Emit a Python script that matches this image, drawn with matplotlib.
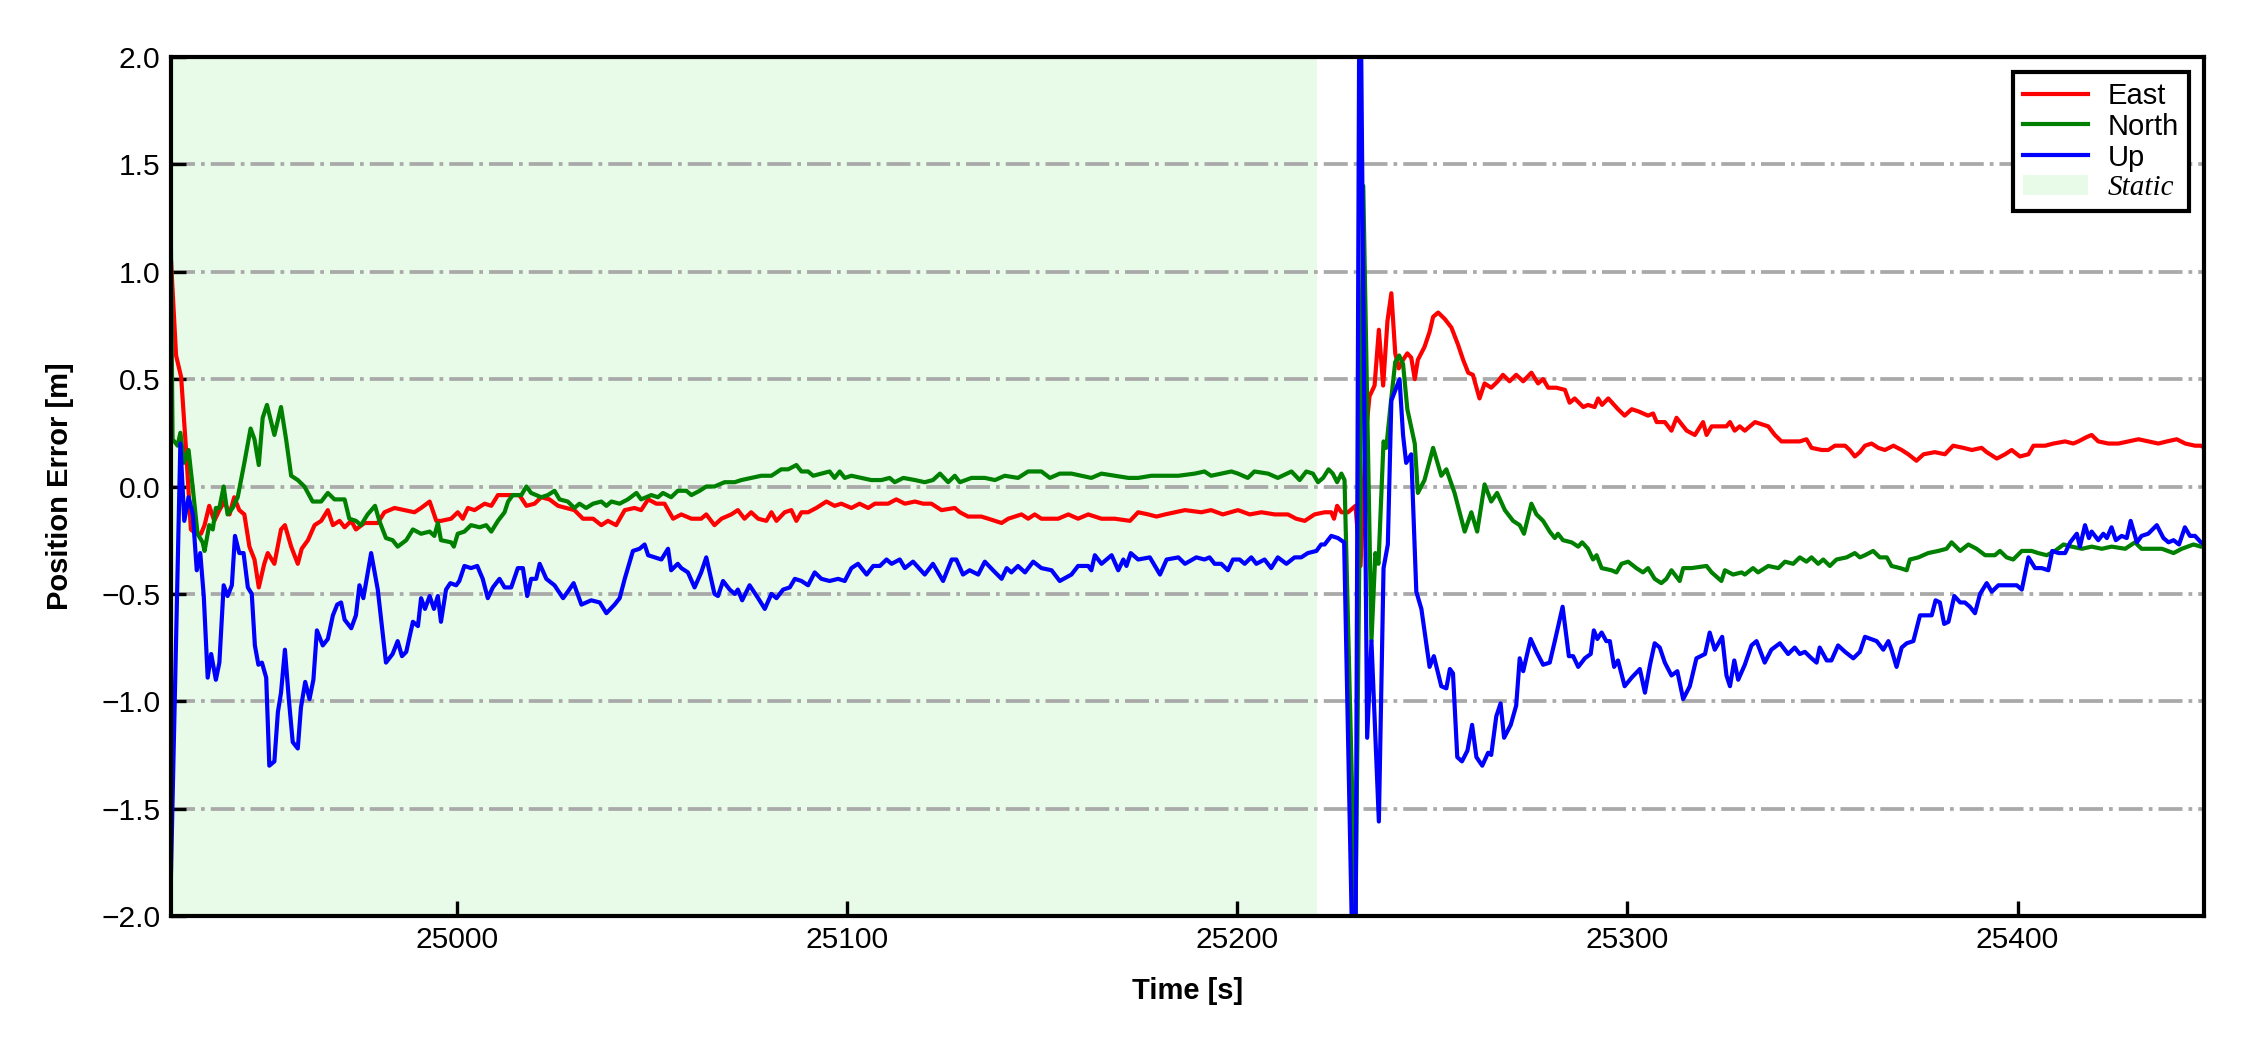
import matplotlib
matplotlib.use("Agg")
import matplotlib.pyplot as plt
from matplotlib.lines import Line2D
from matplotlib.patches import Patch

# ---------------- data ----------------
t_east = [
    24926.5, 24928.0, 24929.3, 24930.6, 24931.8, 24933.1, 24934.4, 24935.3, 24936.5, 24937.8,
    24939.1, 24940.4, 24941.7, 24942.9, 24944.2, 24945.5, 24946.8, 24948.1, 24949.2, 24950.6,
    24951.5, 24953.2, 24954.9, 24955.9, 24957.5, 24959.2, 24960.2, 24961.8, 24963.5, 24965.2,
    24966.9, 24968.2, 24969.9, 24971.2, 24972.9, 24974.1, 24976.3, 24979.7, 24981.4, 24984.0,
    24986.5, 24989.1, 24990.8, 24993.0, 24994.7, 24995.9, 24998.5, 25000.2, 25001.5, 25002.8,
    25004.5, 25007.1, 25008.8, 25010.5, 25013.0, 25016.0, 25017.8, 25019.9, 25021.6, 25023.7,
    25025.9, 25028.0, 25030.1, 25032.3, 25034.9, 25037.0, 25038.7, 25040.8, 25043.0, 25045.5,
    25047.2, 25049.0, 25051.1, 25053.2, 25055.4, 25057.5, 25060.1, 25062.6, 25063.9, 25066.0,
    25067.8, 25070.3, 25072.0, 25073.7, 25075.4, 25077.2, 25079.3, 25080.6, 25081.9, 25084.0,
    25085.7, 25087.0, 25088.3, 25090.0, 25092.1, 25094.7, 25096.8, 25098.5, 25101.1, 25103.2,
    25105.4, 25107.1, 25110.5, 25112.6, 25114.8, 25117.4, 25119.5, 25121.6, 25124.2, 25127.6,
    25128.9, 25131.0, 25134.4, 25136.2, 25139.6, 25141.3, 25144.7, 25146.4, 25148.1, 25149.8,
    25154.1, 25156.7, 25159.2, 25161.8, 25165.2, 25168.6, 25172.5, 25174.6, 25177.2, 25179.3,
    25181.5, 25184.0, 25186.6, 25190.8, 25193.3, 25196.3, 25200.2, 25203.2, 25206.2, 25209.6,
    25213.0, 25215.1, 25217.3, 25219.8, 25222.4, 25224.1, 25224.8, 25225.6, 25226.7, 25228.4,
    25230.3, 25231.6, 25233.0, 25233.9, 25235.2, 25236.3, 25237.4, 25238.5, 25239.5, 25240.5,
    25241.4, 25242.5, 25243.6, 25244.6, 25245.5, 25246.3, 25248.0, 25249.3, 25250.2, 25251.5,
    25253.2, 25254.9, 25256.6, 25257.9, 25259.2, 25260.4, 25262.1, 25263.4, 25265.1, 25266.8,
    25268.1, 25269.8, 25271.5, 25273.3, 25275.4, 25277.1, 25278.4, 25279.7, 25281.8, 25284.0,
    25285.2, 25286.5, 25288.7, 25289.9, 25291.6, 25292.5, 25293.5, 25295.1, 25297.6, 25299.3,
    25301.1, 25302.8, 25305.3, 25306.6, 25307.5, 25309.6, 25311.3, 25312.6, 25313.9, 25315.2,
    25317.3, 25319.4, 25320.3, 25321.6, 25323.7, 25325.4, 25326.3, 25327.5, 25328.8, 25330.1,
    25332.7, 25334.4, 25336.1, 25337.8, 25339.5, 25342.1, 25344.2, 25345.9, 25347.2, 25349.8,
    25351.5, 25353.2, 25355.8, 25357.0, 25358.3, 25359.6, 25360.9, 25362.6, 25364.3, 25366.0,
    25368.2, 25370.3, 25372.0, 25374.1, 25375.9, 25378.8, 25381.4, 25383.5, 25386.1, 25388.3,
    25390.8, 25392.1, 25394.7, 25396.8, 25398.5, 25400.6, 25402.8, 25404.1, 25407.1, 25409.2,
    25412.2, 25414.3, 25415.6, 25417.7, 25419.0, 25420.7, 25423.3, 25425.9, 25428.4, 25431.0,
    25433.6, 25436.1, 25438.3, 25440.8, 25443.0, 25445.5, 25447.0, 25448.0,
]
east = [
    1.12, 0.61, 0.51, 0.16, -0.20, -0.22, -0.22, -0.18, -0.09, -0.16,
    -0.11, -0.07, -0.13, -0.05, -0.11, -0.13, -0.28, -0.34, -0.47, -0.36,
    -0.31, -0.36, -0.20, -0.18, -0.28, -0.36, -0.29, -0.25, -0.18, -0.16,
    -0.11, -0.18, -0.16, -0.19, -0.16, -0.20, -0.17, -0.17, -0.12, -0.10,
    -0.11, -0.12, -0.10, -0.07, -0.16, -0.16, -0.15, -0.12, -0.15, -0.10,
    -0.11, -0.08, -0.09, -0.04, -0.04, -0.04, -0.09, -0.08, -0.05, -0.06,
    -0.09, -0.10, -0.11, -0.15, -0.15, -0.18, -0.16, -0.18, -0.11, -0.10,
    -0.11, -0.06, -0.08, -0.08, -0.15, -0.13, -0.15, -0.15, -0.13, -0.18,
    -0.15, -0.13, -0.11, -0.15, -0.12, -0.15, -0.16, -0.12, -0.16, -0.12,
    -0.11, -0.16, -0.12, -0.12, -0.10, -0.07, -0.09, -0.08, -0.10, -0.08,
    -0.10, -0.08, -0.08, -0.06, -0.08, -0.07, -0.08, -0.08, -0.11, -0.10,
    -0.12, -0.14, -0.14, -0.15, -0.17, -0.15, -0.13, -0.15, -0.13, -0.15,
    -0.15, -0.13, -0.15, -0.13, -0.15, -0.15, -0.16, -0.12, -0.13, -0.14,
    -0.13, -0.12, -0.11, -0.12, -0.11, -0.13, -0.11, -0.13, -0.12, -0.13,
    -0.13, -0.15, -0.16, -0.13, -0.12, -0.12, -0.15, -0.09, -0.12, -0.12,
    -0.09, -0.37, 0.25, 0.42, 0.47, 0.73, 0.47, 0.77, 0.90, 0.62,
    0.55, 0.59, 0.62, 0.60, 0.50, 0.59, 0.65, 0.72, 0.79, 0.81,
    0.78, 0.74, 0.66, 0.59, 0.53, 0.52, 0.41, 0.48, 0.46, 0.49,
    0.52, 0.49, 0.52, 0.49, 0.53, 0.48, 0.50, 0.46, 0.46, 0.45,
    0.39, 0.41, 0.37, 0.38, 0.37, 0.41, 0.38, 0.41, 0.36, 0.33,
    0.36, 0.35, 0.33, 0.34, 0.30, 0.30, 0.26, 0.32, 0.29, 0.26,
    0.24, 0.30, 0.24, 0.28, 0.28, 0.28, 0.30, 0.26, 0.28, 0.26,
    0.30, 0.29, 0.28, 0.24, 0.21, 0.21, 0.21, 0.22, 0.18, 0.17,
    0.17, 0.19, 0.19, 0.17, 0.14, 0.16, 0.19, 0.20, 0.18, 0.17,
    0.19, 0.17, 0.15, 0.12, 0.15, 0.16, 0.15, 0.19, 0.18, 0.17,
    0.18, 0.16, 0.13, 0.15, 0.17, 0.14, 0.15, 0.19, 0.19, 0.20,
    0.21, 0.20, 0.21, 0.23, 0.24, 0.21, 0.20, 0.20, 0.21, 0.22,
    0.21, 0.20, 0.21, 0.22, 0.20, 0.19, 0.19, 0.18,
]

t_north = [
    24926.5, 24927.1, 24928.4, 24929.1, 24930.0, 24931.2, 24932.3, 24933.5, 24934.8, 24935.3,
    24936.5, 24937.4, 24938.2, 24939.1, 24940.2, 24941.2, 24942.5, 24943.8, 24945.5, 24947.1,
    24948.1, 24949.2, 24950.2, 24951.3, 24953.2, 24954.9, 24956.2, 24957.5, 24959.2, 24960.9,
    24963.0, 24965.2, 24966.9, 24968.6, 24971.2, 24972.4, 24974.1, 24975.4, 24977.1, 24979.0,
    24980.1, 24981.8, 24983.5, 24984.8, 24987.0, 24988.7, 24990.8, 24993.0, 24994.2, 24995.1,
    24995.9, 24998.5, 24999.2, 25000.2, 25001.9, 25003.6, 25005.8, 25007.5, 25008.8, 25010.5,
    25012.2, 25013.1, 25014.3, 25016.5, 25017.8, 25019.0, 25021.6, 25023.3, 25025.0, 25026.3,
    25028.4, 25030.1, 25031.4, 25033.1, 25034.9, 25037.0, 25038.3, 25039.6, 25041.7, 25043.8,
    25046.0, 25047.2, 25049.8, 25051.5, 25052.8, 25054.9, 25056.6, 25058.8, 25060.1, 25062.2,
    25063.9, 25066.0, 25068.6, 25071.2, 25072.9, 25075.4, 25078.0, 25080.6, 25083.1, 25084.9,
    25087.0, 25088.3, 25090.0, 25091.3, 25093.4, 25095.5, 25096.8, 25098.1, 25099.4, 25101.1,
    25103.7, 25106.2, 25108.8, 25110.9, 25112.2, 25114.4, 25117.4, 25119.9, 25122.0, 25123.8,
    25125.9, 25127.6, 25128.9, 25131.9, 25135.3, 25137.9, 25140.4, 25143.8, 25146.4, 25149.8,
    25152.0, 25154.5, 25157.5, 25160.1, 25162.6, 25165.2, 25168.6, 25172.1, 25174.6, 25178.0,
    25181.5, 25184.9, 25189.1, 25191.6, 25193.3, 25195.9, 25198.5, 25200.2, 25202.7, 25204.4,
    25207.9, 25210.4, 25213.9, 25216.0, 25217.7, 25219.4, 25220.7, 25222.0, 25223.4, 25224.5,
    25225.6, 25226.7, 25227.5, 25230.3, 25232.3, 25234.4, 25235.4, 25236.2, 25237.5, 25238.2,
    25239.3, 25240.5, 25241.5, 25242.5, 25243.6, 25245.5, 25246.3, 25248.0, 25250.2, 25252.3,
    25253.6, 25255.7, 25258.3, 25260.0, 25261.5, 25263.4, 25265.1, 25266.6, 25268.6, 25270.7,
    25272.4, 25273.5, 25275.4, 25276.7, 25278.4, 25280.1, 25281.4, 25282.2, 25283.5, 25285.7,
    25287.4, 25288.4, 25289.9, 25291.2, 25292.1, 25293.4, 25295.9, 25297.2, 25298.5, 25300.2,
    25302.3, 25304.0, 25305.3, 25307.0, 25308.7, 25310.0, 25311.3, 25313.4, 25314.3, 25316.4,
    25320.3, 25321.6, 25324.1, 25325.0, 25327.1, 25329.3, 25330.1, 25332.2, 25333.5, 25336.1,
    25338.7, 25340.4, 25342.5, 25344.2, 25345.9, 25347.2, 25348.9, 25350.2, 25351.9, 25353.6,
    25356.2, 25358.3, 25359.6, 25360.9, 25363.0, 25364.7, 25366.5, 25367.7, 25369.9, 25371.6,
    25372.4, 25374.6, 25377.1, 25379.7, 25381.8, 25383.1, 25385.3, 25387.4, 25389.5, 25391.7,
    25394.2, 25395.5, 25397.2, 25398.9, 25401.1, 25403.6, 25405.3, 25407.5, 25409.6, 25411.8,
    25413.9, 25416.5, 25419.0, 25421.6, 25424.1, 25427.6, 25430.1, 25431.8, 25434.4, 25437.0,
    25440.0, 25442.1, 25445.1, 25447.0, 25448.0,
]
north = [
    1.50, 0.22, 0.19, 0.25, 0.11, 0.17, -0.01, -0.22, -0.26, -0.30,
    -0.18, -0.20, -0.10, -0.10, 0.00, -0.13, -0.10, -0.05, 0.11, 0.27,
    0.22, 0.10, 0.32, 0.38, 0.24, 0.37, 0.22, 0.05, 0.03, 0.00,
    -0.07, -0.07, -0.03, -0.06, -0.06, -0.15, -0.16, -0.18, -0.13, -0.09,
    -0.16, -0.24, -0.25, -0.28, -0.25, -0.20, -0.22, -0.21, -0.23, -0.17,
    -0.25, -0.26, -0.28, -0.22, -0.21, -0.18, -0.19, -0.18, -0.21, -0.16,
    -0.12, -0.07, -0.04, -0.04, 0.00, -0.03, -0.05, -0.04, -0.02, -0.06,
    -0.07, -0.10, -0.08, -0.10, -0.08, -0.07, -0.09, -0.07, -0.08, -0.06,
    -0.03, -0.06, -0.04, -0.05, -0.03, -0.05, -0.02, -0.02, -0.04, -0.02,
    0.00, 0.00, 0.02, 0.02, 0.03, 0.04, 0.05, 0.05, 0.08, 0.08,
    0.10, 0.07, 0.07, 0.05, 0.06, 0.07, 0.04, 0.07, 0.04, 0.05,
    0.04, 0.03, 0.03, 0.04, 0.02, 0.04, 0.03, 0.02, 0.03, 0.06,
    0.02, 0.05, 0.02, 0.04, 0.04, 0.03, 0.05, 0.04, 0.07, 0.07,
    0.04, 0.06, 0.06, 0.05, 0.04, 0.06, 0.05, 0.04, 0.04, 0.05,
    0.05, 0.05, 0.06, 0.07, 0.05, 0.06, 0.07, 0.06, 0.04, 0.07,
    0.06, 0.04, 0.07, 0.03, 0.07, 0.06, 0.02, 0.04, 0.08, 0.06,
    0.02, 0.06, 0.03, -2.05, 1.40, -0.72, -0.31, -0.36, 0.21, 0.18,
    0.38, 0.58, 0.61, 0.57, 0.36, 0.20, -0.03, 0.03, 0.18, 0.05,
    0.08, -0.03, -0.21, -0.12, -0.21, 0.01, -0.07, -0.03, -0.11, -0.16,
    -0.18, -0.22, -0.08, -0.13, -0.16, -0.21, -0.24, -0.22, -0.25, -0.26,
    -0.28, -0.26, -0.29, -0.34, -0.32, -0.38, -0.39, -0.40, -0.36, -0.35,
    -0.38, -0.40, -0.38, -0.43, -0.45, -0.43, -0.39, -0.44, -0.38, -0.38,
    -0.37, -0.40, -0.44, -0.39, -0.41, -0.40, -0.41, -0.38, -0.40, -0.37,
    -0.38, -0.35, -0.36, -0.33, -0.35, -0.33, -0.36, -0.34, -0.37, -0.34,
    -0.33, -0.31, -0.33, -0.32, -0.30, -0.33, -0.33, -0.37, -0.38, -0.39,
    -0.34, -0.33, -0.31, -0.30, -0.29, -0.26, -0.30, -0.27, -0.29, -0.32,
    -0.32, -0.30, -0.33, -0.34, -0.30, -0.30, -0.31, -0.32, -0.30, -0.27,
    -0.28, -0.29, -0.28, -0.29, -0.28, -0.29, -0.26, -0.29, -0.29, -0.29,
    -0.31, -0.29, -0.27, -0.28, -0.28,
]

t_up = [
    24926.6, 24929.1, 24930.1, 24931.2, 24932.3, 24933.3, 24934.2, 24935.1, 24936.1, 24937.0,
    24938.2, 24939.1, 24940.2, 24941.2, 24942.3, 24943.1, 24944.2, 24945.3, 24946.4, 24947.4,
    24948.2, 24949.1, 24950.0, 24951.1, 24951.9, 24953.2, 24954.1, 24954.9, 24955.9, 24956.9,
    24957.9, 24959.2, 24960.0, 24961.1, 24962.2, 24963.2, 24964.1, 24965.6, 24966.9, 24968.2,
    24969.3, 24970.3, 24971.2, 24972.9, 24974.1, 24975.0, 24976.0, 24978.0, 24979.7, 24981.8,
    24983.5, 24984.8, 24985.9, 24987.0, 24988.7, 24990.0, 24990.8, 24991.8, 24993.0, 24994.1,
    24995.1, 24995.9, 24997.2, 24998.3, 24999.8, 25000.6, 25001.9, 25003.6, 25005.2, 25006.6,
    25007.9, 25009.2, 25010.9, 25012.2, 25013.9, 25015.6, 25016.9, 25018.0, 25019.0, 25020.3,
    25021.2, 25022.9, 25025.0, 25027.2, 25028.4, 25029.9, 25031.9, 25034.4, 25036.6, 25038.3,
    25040.4, 25041.7, 25043.0, 25045.1, 25046.8, 25048.1, 25049.0, 25050.7, 25052.4, 25054.1,
    25054.9, 25056.6, 25057.5, 25059.2, 25060.9, 25062.6, 25063.9, 25066.0, 25066.9, 25068.2,
    25069.9, 25071.2, 25072.0, 25073.1, 25075.0, 25077.2, 25078.9, 25080.6, 25081.9, 25083.6,
    25085.3, 25086.6, 25088.3, 25090.0, 25091.7, 25093.4, 25095.5, 25097.7, 25099.4, 25101.1,
    25102.8, 25105.0, 25106.7, 25108.4, 25110.1, 25111.4, 25113.5, 25114.8, 25116.9, 25119.9,
    25122.0, 25124.6, 25126.8, 25128.0, 25129.7, 25131.4, 25133.6, 25135.3, 25137.4, 25139.6,
    25140.9, 25142.1, 25143.8, 25145.6, 25147.7, 25149.8, 25152.4, 25154.5, 25157.5, 25159.2,
    25161.8, 25162.6, 25163.5, 25165.2, 25167.8, 25169.5, 25170.8, 25171.6, 25172.7, 25174.6,
    25177.6, 25180.2, 25181.9, 25184.9, 25186.6, 25189.5, 25191.6, 25192.9, 25194.2, 25195.9,
    25197.6, 25198.9, 25200.6, 25201.9, 25203.6, 25204.9, 25207.0, 25208.7, 25210.4, 25212.6,
    25214.7, 25216.4, 25218.1, 25220.3, 25221.5, 25222.4, 25224.1, 25225.8, 25227.4, 25230.2,
    25231.4, 25233.3, 25234.4, 25236.3, 25237.5, 25238.6, 25239.5, 25241.6, 25242.5, 25243.3,
    25244.6, 25245.9, 25247.2, 25249.3, 25250.4, 25252.3, 25253.6, 25254.5, 25255.3, 25256.4,
    25257.6, 25259.0, 25260.2, 25261.3, 25262.8, 25264.3, 25265.1, 25266.4, 25267.5, 25268.4,
    25270.1, 25271.5, 25272.4, 25273.3, 25275.2, 25276.7, 25278.4, 25280.1, 25281.4, 25283.4,
    25285.0, 25286.1, 25287.4, 25289.1, 25290.6, 25291.4, 25292.3, 25293.4, 25294.6, 25295.5,
    25296.6, 25297.6, 25299.3, 25301.1, 25303.2, 25304.5, 25305.8, 25307.0, 25308.3, 25309.6,
    25311.3, 25312.8, 25314.3, 25316.0, 25317.7, 25319.9, 25321.1, 25322.4, 25324.3, 25325.4,
    25326.3, 25327.4, 25328.4, 25330.1, 25331.8, 25333.1, 25335.2, 25336.9, 25339.1, 25341.2,
    25342.9, 25344.2, 25345.5, 25347.2, 25348.5, 25349.3, 25351.1, 25352.3, 25354.0, 25355.8,
    25357.9, 25359.6, 25360.9, 25363.9, 25365.6, 25366.9, 25367.7, 25369.0, 25370.3, 25371.6,
    25373.3, 25375.0, 25376.3, 25378.0, 25379.0, 25380.1, 25381.2, 25382.3, 25383.8, 25385.3,
    25386.5, 25387.8, 25389.1, 25390.4, 25392.1, 25393.4, 25395.1, 25397.7, 25399.8, 25401.1,
    25402.8, 25404.5, 25406.2, 25407.9, 25408.9, 25410.5, 25412.2, 25413.5, 25415.2, 25416.0,
    25417.3, 25418.3, 25419.0, 25420.7, 25422.0, 25422.9, 25424.1, 25425.2, 25426.7, 25428.0,
    25429.0, 25430.6, 25431.8, 25433.5, 25435.7, 25437.4, 25438.7, 25440.0, 25441.4, 25442.9,
    25444.2, 25445.5, 25447.0, 25448.0,
]
up = [
    -1.88, 0.20, -0.16, -0.05, -0.13, -0.39, -0.31, -0.51, -0.89, -0.78,
    -0.90, -0.82, -0.46, -0.51, -0.46, -0.23, -0.31, -0.31, -0.47, -0.50,
    -0.74, -0.83, -0.82, -0.89, -1.30, -1.28, -1.05, -0.96, -0.76, -0.99,
    -1.19, -1.22, -1.03, -0.91, -0.99, -0.90, -0.67, -0.74, -0.71, -0.60,
    -0.55, -0.54, -0.62, -0.66, -0.60, -0.46, -0.52, -0.31, -0.48, -0.82,
    -0.78, -0.72, -0.79, -0.77, -0.63, -0.65, -0.52, -0.57, -0.51, -0.57,
    -0.51, -0.63, -0.48, -0.45, -0.46, -0.44, -0.37, -0.38, -0.37, -0.43,
    -0.52, -0.47, -0.43, -0.47, -0.47, -0.38, -0.38, -0.51, -0.43, -0.43,
    -0.36, -0.43, -0.46, -0.52, -0.49, -0.45, -0.55, -0.53, -0.54, -0.59,
    -0.55, -0.52, -0.43, -0.30, -0.29, -0.27, -0.32, -0.33, -0.34, -0.29,
    -0.39, -0.36, -0.38, -0.40, -0.47, -0.40, -0.33, -0.50, -0.51, -0.44,
    -0.48, -0.50, -0.48, -0.53, -0.46, -0.52, -0.57, -0.50, -0.52, -0.48,
    -0.47, -0.43, -0.44, -0.46, -0.40, -0.43, -0.44, -0.43, -0.44, -0.38,
    -0.36, -0.41, -0.37, -0.37, -0.34, -0.36, -0.34, -0.38, -0.35, -0.41,
    -0.36, -0.44, -0.34, -0.34, -0.41, -0.39, -0.41, -0.35, -0.39, -0.43,
    -0.38, -0.40, -0.37, -0.40, -0.35, -0.38, -0.39, -0.44, -0.41, -0.37,
    -0.37, -0.39, -0.32, -0.36, -0.32, -0.39, -0.34, -0.37, -0.31, -0.34,
    -0.33, -0.41, -0.34, -0.33, -0.36, -0.33, -0.34, -0.33, -0.36, -0.36,
    -0.39, -0.34, -0.34, -0.36, -0.33, -0.36, -0.34, -0.38, -0.33, -0.36,
    -0.33, -0.33, -0.31, -0.30, -0.27, -0.27, -0.23, -0.24, -0.26, -2.80,
    2.80, -1.17, -0.72, -1.56, -0.38, -0.27, 0.40, 0.50, 0.24, 0.11,
    0.15, -0.49, -0.57, -0.84, -0.79, -0.93, -0.94, -0.85, -0.87, -1.26,
    -1.28, -1.23, -1.11, -1.26, -1.30, -1.24, -1.25, -1.07, -1.01, -1.17,
    -1.11, -1.02, -0.80, -0.86, -0.71, -0.77, -0.83, -0.82, -0.72, -0.56,
    -0.79, -0.79, -0.84, -0.80, -0.78, -0.67, -0.71, -0.68, -0.72, -0.72,
    -0.84, -0.81, -0.93, -0.89, -0.85, -0.96, -0.83, -0.73, -0.75, -0.82,
    -0.88, -0.86, -0.99, -0.93, -0.80, -0.78, -0.68, -0.76, -0.70, -0.88,
    -0.93, -0.81, -0.90, -0.83, -0.74, -0.72, -0.82, -0.76, -0.73, -0.78,
    -0.75, -0.78, -0.77, -0.80, -0.82, -0.75, -0.81, -0.81, -0.74, -0.77,
    -0.80, -0.77, -0.70, -0.72, -0.76, -0.72, -0.76, -0.84, -0.75, -0.73,
    -0.72, -0.60, -0.60, -0.60, -0.53, -0.54, -0.64, -0.63, -0.51, -0.54,
    -0.54, -0.56, -0.59, -0.50, -0.45, -0.49, -0.46, -0.46, -0.46, -0.48,
    -0.33, -0.38, -0.38, -0.39, -0.30, -0.31, -0.31, -0.26, -0.22, -0.28,
    -0.18, -0.24, -0.21, -0.25, -0.22, -0.24, -0.19, -0.25, -0.23, -0.24,
    -0.16, -0.26, -0.23, -0.22, -0.18, -0.24, -0.26, -0.25, -0.27, -0.19,
    -0.23, -0.23, -0.26, -0.27,
]

static_start, static_end = 24926.6, 25220.5
x_limits = (24926.7, 25447.8)
y_limits = (-2.0, 2.0)
x_ticks = [25000, 25100, 25200, 25300, 25400]
y_ticks = [-2.0, -1.5, -1.0, -0.5, 0.0, 0.5, 1.0, 1.5, 2.0]
series_labels = ["East", "North", "Up", "Static"]

# ---------------- figure ----------------
plt.rcParams["font.family"] = ["Liberation Sans", "DejaVu Sans"]
fig = plt.figure(figsize=(7.5, 3.5), dpi=300)
ax = fig.add_axes([171 / 2250, 1 - 916 / 1050, (2204 - 171) / 2250, (916 - 57) / 1050])

ax.axvspan(static_start, static_end, color="lightgreen", alpha=0.2, lw=0, zorder=0.8)
ax.plot(t_east, east, color="red", lw=1.0)
ax.plot(t_north, north, color="green", lw=1.0)
ax.plot(t_up, up, color="blue", lw=1.0)

ax.set_xlim(*x_limits)
ax.set_ylim(*y_limits)
ax.set_xticks(x_ticks)
ax.set_yticks(y_ticks)
ax.yaxis.grid(True, linestyle="-.", color="darkgray", lw=0.9)
ax.tick_params(direction="in", length=3.5, width=0.8, labelsize=7.2, pad=2.5)
for sp in ax.spines.values():
    sp.set_linewidth(1.0)

ax.set_xlabel("Time [s]", fontsize=7, fontweight="bold", labelpad=5.5)
ax.set_ylabel("Position Error [m]", fontsize=7, fontweight="bold", labelpad=6.5)

handles = [
    Line2D([], [], color="red", lw=1.0),
    Line2D([], [], color="green", lw=1.0),
    Line2D([], [], color="blue", lw=1.0),
    Patch(facecolor="lightgreen", alpha=0.2, edgecolor="none"),
]
leg = ax.legend(handles, series_labels, loc="upper right", fontsize=7,
                frameon=True, fancybox=False, framealpha=1, edgecolor="black",
                labelspacing=0.1, handlelength=2.2, handletextpad=0.7,
                borderpad=0.35, borderaxespad=0.5)
leg.get_frame().set_linewidth(1.0)
leg.get_texts()[3].set_fontfamily(["Liberation Serif", "DejaVu Serif"])
leg.get_texts()[3].set_fontstyle("italic")

fig.savefig("out.png", dpi=300)
